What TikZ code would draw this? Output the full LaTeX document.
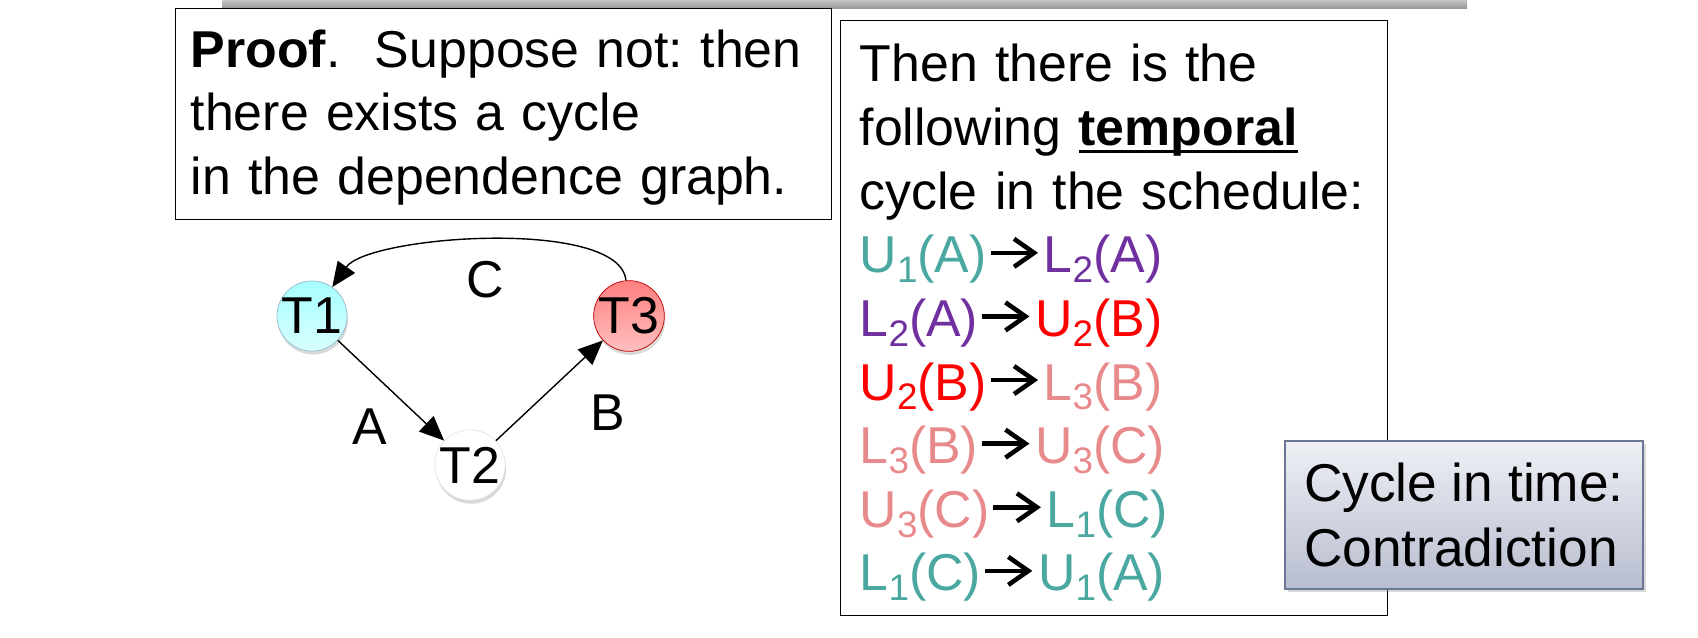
\documentclass[tikz,border=0pt]{standalone}
\usepackage{fontspec}
\setmainfont{Liberation Sans}
\usepackage{xcolor}
\usetikzlibrary{arrows.meta,shadows}
\frenchspacing

\definecolor{lockteal}{HTML}{4AA8A0}
\definecolor{lockpurple}{HTML}{7030A0}
\definecolor{lockred}{HTML}{FF0000}
\definecolor{locksalmon}{HTML}{E88A8C}
\definecolor{boxedge}{HTML}{6A7896}
\definecolor{boxtop}{HTML}{EEF0F5}
\definecolor{boxbottom}{HTML}{B8BDCF}

\newsavebox{\ulbox}
\newcommand{\thickul}[1]{\sbox{\ulbox}{#1}\rlap{\rule[-0.15em]{\wd\ulbox}{0.06em}}\usebox{\ulbox}}
\newcommand{\tsub}[1]{\raisebox{-0.19em}{\fontsize{21}{21}\selectfont #1}}
\newcommand{\act}[4]{\textcolor{#1}{#2\tsub{#3}(#4)}}
\newcommand{\goes}{\kern0.03cm\tikz[baseline=-0.4cm]\draw[black, line width=2.6pt,
    -{Straight Barb[length=0.4cm, width=0.56cm, line width=2.6pt]}] (0,0) -- (0.95cm,0);\kern0.05cm}

\begin{document}
\begin{tikzpicture}[
        txtbox/.style={draw, line width=0.8pt, anchor=north west, align=left,
                       font={\fontsize{29.5}{36.2}\selectfont}},
        task/.style={circle, draw, minimum size=1.4cm, inner sep=0pt,
                     font={\fontsize{29.5}{36.2}\selectfont},
                     drop shadow={shadow xshift=0.6pt, shadow yshift=-2pt, opacity=0.3}},
        lbl/.style={font={\fontsize{29.5}{36.2}\selectfont}},
        arr/.style={-{Triangle[length=14pt,width=12pt]}, line width=0.8pt}
    ]
    \useasboundingbox (0,0) rectangle (33.96,-12.76);
    % edge of the shape above
    \shade[top color=gray!45, bottom color=gray!85] (4.45,0) rectangle (29.34,-0.18);

    \node[txtbox, inner xsep=0.3cm, text width=12.52cm, minimum height=4.22cm] (proof) at (3.5,-0.16)
        {\rule{0pt}{0.85em}\textbf{Proof}.~~Suppose not: then\\there exists a cycle\\in the dependence graph.};

    % dependence graph
    \node[task, draw=cyan!40!gray!70, top color=cyan!35!white, bottom color=cyan!15!white] (t1) at (6.24,-6.32) {T1};
    \node[task, draw=gray!20, fill=white] (t2) at (9.4,-9.3) {T2};
    \node[task, draw=red!75!black, top color=red!50!white, bottom color=red!25!white] (t3) at (12.58,-6.32) {T3};
    \draw[arr] (t1) -- (t2);
    \draw[arr] (t2) -- (t3);
    \draw[arr] (t3) to[out=95, in=55, looseness=0.55] (t1);
    \node[lbl] (labc) at (9.7,-5.6) {C};
    \node[lbl] (laba) at (7.4,-8.54) {A};
    \node[lbl] (labb) at (12.16,-8.26) {B};

    % schedule
    \node[txtbox, inner xsep=0.38cm, text width=10.18cm, minimum height=11.91cm] (sched) at (16.8,-0.39)
        {\rule{0pt}{0.92em}Then there is the\\
         following \thickul{\textbf{temporal}}\\
         cycle in the schedule:\\
         \act{lockteal}{U}{1}{A}\goes\act{lockpurple}{L}{2}{A}\\
         \act{lockpurple}{L}{2}{A}\goes\act{lockred}{U}{2}{B}\\
         \act{lockred}{U}{2}{B}\goes\act{locksalmon}{L}{3}{B}\\
         \act{locksalmon}{L}{3}{B}\goes\act{locksalmon}{U}{3}{C}\\
         \act{locksalmon}{U}{3}{C}\goes\act{lockteal}{L}{1}{C}\\
         \act{lockteal}{L}{1}{C}\goes\act{lockteal}{U}{1}{A}};

    \node[txtbox, draw=boxedge, line width=1pt, top color=boxtop, bottom color=boxbottom,
          font={\fontsize{30.3}{36.6}\selectfont},
          drop shadow={shadow xshift=2pt, shadow yshift=-2pt, opacity=0.3},
          minimum width=7.16cm, minimum height=2.96cm] (verdict) at (25.68,-8.8)
        {Cycle in time:\\Contradiction};
\end{tikzpicture}
\end{document}
